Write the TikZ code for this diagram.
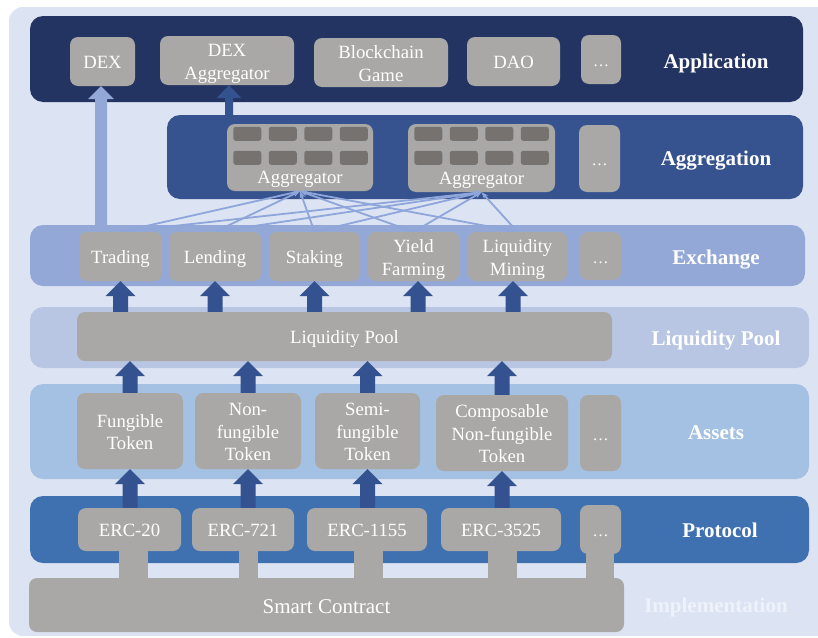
\documentclass[tikz,border=0pt]{standalone}
\usepackage{fontspec}
\setmainfont{Liberation Serif}
\usetikzlibrary{arrows.meta,calc}
\definecolor{bgc}{HTML}{DCE3F3}
\definecolor{appc}{HTML}{243462}
\definecolor{aggc}{HTML}{37538F}
\definecolor{exc}{HTML}{93A8D7}
\definecolor{lpc}{HTML}{B8C6E4}
\definecolor{asc}{HTML}{A4C1E3}
\definecolor{prc}{HTML}{3F70B0}
\definecolor{grayc}{HTML}{A9A8A6}
\definecolor{dgray}{HTML}{757270}
\definecolor{arrc}{HTML}{34528F}
\definecolor{larrc}{HTML}{93A8D7}
\definecolor{linec}{HTML}{8EA6D9}
\definecolor{implc}{HTML}{EEF2FA}
\newcommand\bxfont{\fontsize{18.7}{22.5}\selectfont}
\newcommand\lbfont{\bfseries\fontsize{21}{25}\selectfont}
\newcommand\tp{\rule{0pt}{19pt}}
\newcommand\bt{\rule[-4.5pt]{0pt}{4.5pt}}
% #1 source (gives bottom y), #2 tip, #3 shaft half width, #4 head half width, #5 head length, #6 colour
\newcommand\blockarrow[6]{%
  \fill[#6] let \p1=(#1), \p2=(#2) in
    (\x2-#3,\y1) -- (\x2-#3,\y2-#5) -- (\x2-#4,\y2-#5) -- (\x2,\y2)
    -- (\x2+#4,\y2-#5) -- (\x2+#3,\y2-#5) -- (\x2+#3,\y1) -- cycle;}
\begin{document}
\begin{tikzpicture}[x=1pt,y=-1pt,
  gbox/.style={fill=grayc, rounded corners=8pt, inner sep=0pt, text=white, align=center, font=\bxfont},
  dots/.style={gbox, font=\fontsize{16}{22.5}\selectfont},
  band/.style={rounded corners=13pt, inner sep=0pt},
  lyr/.style={text=white, font=\lbfont, inner sep=0pt, anchor=base},
  thinl/.style={draw=linec, line width=1.8pt, -{Stealth[length=7pt,width=5.5pt]}},
  stub/.style={draw=grayc}]
\useasboundingbox (0,0) rectangle (818,637);
\fill[bgc, rounded corners=14pt] (9,7) rectangle (850,636);

% layer bands
\node[band, fill=appc, minimum width=773, minimum height=86] (appband) at (416.5,59) {};
\node[band, fill=aggc, minimum width=636, minimum height=84] (aggband) at (485,157) {};
\node[band, fill=exc, minimum width=775, minimum height=61] (exband) at (417.5,255.5) {};
\node[band, fill=lpc, minimum width=779, minimum height=61] (lpband) at (419.5,337.5) {};
\node[band, fill=asc, minimum width=779, minimum height=95] (asband) at (419.5,431.5) {};
\node[band, fill=prc, minimum width=779, minimum height=67] (prband) at (419.5,529.5) {};

% application
\node[gbox, minimum width=65, minimum height=49] (dex) at (102.5,61.5) {\tp DEX\bt};
\node[gbox, minimum width=134, minimum height=49] (dexagg) at (227,60.5) {\tp DEX\\Aggregator\bt};
\node[gbox, minimum width=134, minimum height=49] (game) at (381,62.5) {\tp Blockchain\\Game\bt};
\node[gbox, minimum width=93, minimum height=49] (dao) at (513.5,61.5) {\tp DAO\bt};
\node[dots, minimum width=40, minimum height=49] (appdots) at (601,59.5) {\tp…\bt};

% aggregation
\node[gbox, minimum width=146, minimum height=67] (agg1) at (300,157.5) {};
\node[gbox, minimum width=147, minimum height=68] (agg2) at (481.5,158) {};
\node[dots, minimum width=41, minimum height=67] (aggdots) at (599.5,158.5) {\tp…\bt};
\foreach \a in {agg1,agg2}{
  \foreach \i in {0,1,2,3}{
    \foreach \j in {0,1}{
      \fill[dgray, rounded corners=2.5pt] ($(\a.north west)+(6.5+35.5*\i,3+24*\j)$) rectangle ++(28,14);
    }
  }
  \node[font=\bxfont, text=white, anchor=base, inner sep=0pt] at ($(\a.south)+(0,-7.5)$) {Aggregator};
}

% exchange boxes, thin connectors, then the box texts on top
\node[gbox, minimum width=83, minimum height=49] (trading) at (120.5,256.5) {};
\node[gbox, minimum width=92, minimum height=49] (lending) at (215,256.5) {};
\node[gbox, minimum width=91, minimum height=49] (staking) at (314.5,256.5) {};
\node[gbox, minimum width=91, minimum height=49] (yield) at (413.5,256.5) {};
\node[gbox, minimum width=99, minimum height=49] (liqmin) at (517.5,256.5) {};
\foreach \s in {trading,lending,staking,yield,liqmin}{
  \foreach \t in {agg1,agg2}{
    \draw[thinl] (\s.north) -- (\t.south);
  }
}
\node[gbox, minimum width=83, minimum height=49] at (trading.center) {\tp Trading\bt};
\node[gbox, minimum width=92, minimum height=49] at (lending.center) {\tp Lending\bt};
\node[gbox, minimum width=91, minimum height=49] at (staking.center) {\tp Staking\bt};
\node[gbox, minimum width=91, minimum height=49] at (yield.center) {\tp Yield\\Farming\bt};
\node[gbox, minimum width=99, minimum height=49] at (liqmin.center) {\tp Liquidity\\Mining\bt};
\node[dots, minimum width=41, minimum height=48] (exdots) at (600.5,256) {\tp…\bt};

% liquidity pool
\node[gbox, minimum width=535, minimum height=49] (lp) at (344.5,336.5) {\tp Liquidity Pool\bt};

% assets
\node[gbox, minimum width=106, minimum height=76] (fung) at (130,431) {\tp Fungible\\Token\bt};
\node[gbox, minimum width=106, minimum height=76] (nonf) at (248,431) {\tp Non-\\fungible\\Token\bt};
\node[gbox, minimum width=105, minimum height=76] (semi) at (367.5,431) {\tp Semi-\\fungible\\Token\bt};
\node[gbox, minimum width=132, minimum height=76] (comp) at (502,433) {\tp Composable\\Non-fungible\\Token\bt};
\node[dots, minimum width=41, minimum height=76] (asdots) at (600.5,433) {\tp…\bt};

% implementation
\node[gbox, minimum width=595, minimum height=54, font=\fontsize{21}{25}\selectfont] (sc) at (326.5,605) {\rule{0pt}{20.5pt}Smart Contract\bt};

% protocol
\node[gbox, minimum width=103, minimum height=43] (erc20) at (129.5,529.5) {\tp ERC-20\bt};
\node[gbox, minimum width=102, minimum height=43] (erc721) at (243,529.5) {\tp ERC-721\bt};
\node[gbox, minimum width=120, minimum height=43] (erc1155) at (367,529.5) {\tp ERC-1155\bt};
\node[gbox, minimum width=120, minimum height=43] (erc3525) at (501,529.5) {\tp ERC-3525\bt};
\node[dots, minimum width=41, minimum height=49] (prdots) at (600.5,529.5) {\tp…\bt};

% stubs protocol -> smart contract
\draw[stub, line width=29pt] ($(erc20.south)+(4,-6)$) -- ($(erc20.south |- sc.north)+(4,4)$);
\draw[stub, line width=19pt] ($(erc721.south)+(5.5,-6)$) -- ($(erc721.south |- sc.north)+(5.5,4)$);
\draw[stub, line width=29pt] ($(erc1155.south)+(1.5,-6)$) -- ($(erc1155.south |- sc.north)+(1.5,4)$);
\draw[stub, line width=29pt] ($(erc3525.south)+(1.5,-6)$) -- ($(erc3525.south |- sc.north)+(1.5,4)$);
\draw[stub, line width=28pt] ($(prdots.south)+(-0.5,-6)$) -- ($(prdots.south |- sc.north)+(-0.5,4)$);

% block arrows
\blockarrow{lp.north}{trading.south}{7.5pt}{15pt}{15pt}{arrc}
\blockarrow{lp.north}{lending.south}{7.5pt}{15pt}{15pt}{arrc}
\blockarrow{lp.north}{staking.south}{7.5pt}{15pt}{15pt}{arrc}
\blockarrow{lp.north}{[xshift=4.5pt]yield.south}{7.5pt}{15pt}{15pt}{arrc}
\blockarrow{lp.north}{[xshift=-4.5pt]liqmin.south}{7.5pt}{15pt}{15pt}{arrc}

\blockarrow{fung.north}{lp.south -| fung.north}{7.5pt}{15pt}{15pt}{arrc}
\blockarrow{nonf.north}{lp.south -| nonf.north}{7.5pt}{15pt}{15pt}{arrc}
\blockarrow{semi.north}{lp.south -| semi.north}{7.5pt}{15pt}{15pt}{arrc}
\blockarrow{comp.north}{lp.south -| comp.north}{7.5pt}{15pt}{15pt}{arrc}

\blockarrow{erc20.north}{fung.south}{7.5pt}{15pt}{15pt}{arrc}
\blockarrow{erc721.north}{nonf.south}{7.5pt}{15pt}{15pt}{arrc}
\blockarrow{erc1155.north}{semi.south}{7.5pt}{15pt}{15pt}{arrc}
\blockarrow{erc3525.north}{comp.south}{7.5pt}{15pt}{15pt}{arrc}

\blockarrow{exband.north}{[xshift=-1.5pt]dex.south}{6pt}{13pt}{13pt}{larrc}
\blockarrow{aggband.north}{[xshift=2pt]dexagg.south}{4pt}{12.5pt}{13pt}{arrc}

% layer labels
\node[lyr] (lapp) at (716,68) {Application};
\node[lyr] (lagg) at (716,165) {Aggregation};
\node[lyr] (lex) at (716,264) {Exchange};
\node[lyr] (llp) at (716,345) {Liquidity Pool};
\node[lyr] (las) at (716,439) {Assets};
\node[lyr] (lpr) at (720,537) {Protocol};
\node[lyr, text=implc] (limp) at (716,612) {Implementation};
\end{tikzpicture}
\end{document}
